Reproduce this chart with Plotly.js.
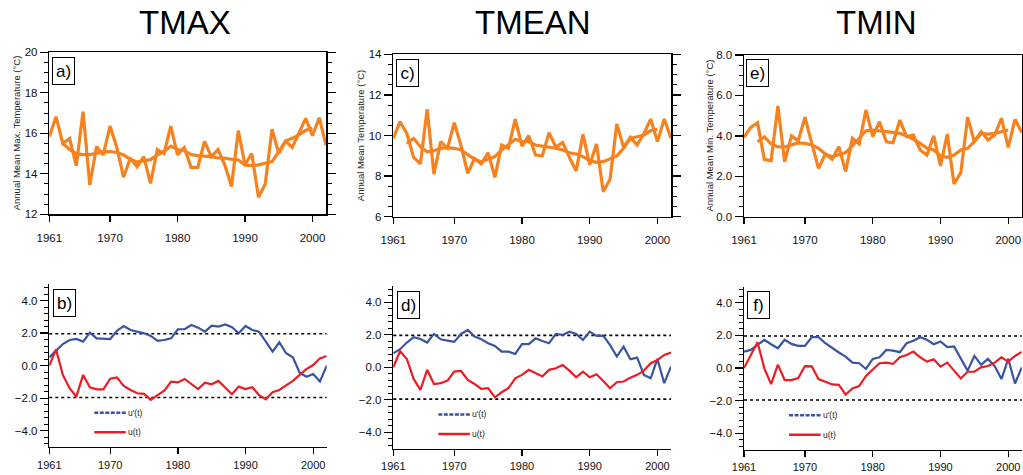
<!DOCTYPE html>
<html>
<head>
<meta charset="utf-8">
<script src="https://cdn.plot.ly/plotly-3.0.1.min.js"></script>
<style>
html,body{margin:0;padding:0;background:#fff;}
#chart{width:1023px;height:475px;}
</style>
</head>
<body>
<div id="chart"></div>
<script>
// ---------- data ----------
const years = [];
for (let y = 1961; y <= 2002; y++) years.push(y);
const smoothYears = [];
for (let y = 1963; y <= 2000; y++) smoothYears.push(y);

const tmax = [15.84,16.82,15.5,15.75,14.4,17.07,13.45,15.35,14.93,16.36,15.3,13.83,14.77,14.35,14.85,13.53,15.2,15.0,16.36,14.93,15.3,14.32,14.32,15.6,14.85,15.2,14.44,13.37,16.13,14.44,15.0,12.84,13.5,16.2,15.0,15.6,15.3,16.0,16.74,15.88,16.77,15.42];
const tmaxSmooth = [15.5,15.2,15.0,14.95,14.95,15.02,15.08,15.1,15.05,14.93,14.72,14.58,14.65,14.7,14.93,15.1,15.37,15.2,15.15,14.95,14.9,14.88,14.85,14.78,14.77,14.72,14.68,14.42,14.4,14.44,14.52,14.6,15.1,15.62,15.75,15.92,16.15,16.25];

const tmean = [9.86,10.68,10.1,8.92,8.6,11.29,8.1,9.7,9.37,10.63,9.5,8.14,8.87,8.6,9.15,7.94,9.53,9.37,10.81,9.48,9.99,9.04,9.0,10.14,9.42,9.66,8.92,8.25,10.06,8.55,9.58,7.23,7.84,10.57,9.42,9.91,9.53,10.1,10.81,9.7,10.81,9.86];
const tmeanSmooth = [9.61,9.86,9.45,9.2,9.25,9.37,9.4,9.37,9.29,9.04,8.83,8.71,8.83,8.96,9.29,9.53,9.81,9.7,9.7,9.53,9.48,9.45,9.37,9.29,9.15,9.09,8.96,8.76,8.68,8.71,8.83,8.99,9.37,9.86,9.94,10.02,10.24,10.3];

const tmin = [3.93,4.42,4.65,2.84,2.77,5.48,2.72,4.0,3.75,4.92,3.63,2.39,3.1,2.84,3.46,2.23,3.88,3.6,5.28,3.96,4.7,3.71,3.66,4.78,3.96,4.04,3.3,3.05,4.0,2.51,4.09,1.62,2.18,4.92,3.71,4.21,3.79,4.04,4.87,3.43,4.82,4.16];
const tminSmooth = [3.71,3.95,3.6,3.45,3.45,3.55,3.65,3.63,3.55,3.38,3.1,2.97,3.08,3.17,3.5,3.88,4.25,4.29,4.26,4.21,4.17,4.12,4.0,3.83,3.63,3.38,3.3,3.0,2.94,3.05,3.3,3.38,3.71,4.12,4.09,4.12,4.21,4.29];

const tmaxUb = [0.51,0.92,1.33,1.58,1.64,1.48,2.03,1.68,1.64,1.64,2.15,2.44,2.19,2.09,1.99,1.83,1.52,1.58,1.68,2.24,2.24,2.5,2.34,2.09,2.46,2.4,2.54,2.36,1.99,2.44,2.19,2.09,1.48,0.86,1.44,0.76,0.51,-0.43,-0.68,-0.51,-0.98,0.0];
const tmaxUf = [0,1.0,-0.57,-1.39,-1.91,-0.57,-1.33,-1.46,-1.46,-0.8,-0.72,-1.25,-1.5,-1.7,-1.74,-2.11,-1.81,-1.54,-0.98,-1.03,-0.82,-1.13,-1.44,-1.05,-1.15,-0.94,-1.33,-1.76,-1.29,-1.44,-1.33,-1.81,-2.07,-1.64,-1.5,-1.23,-0.94,-0.57,-0.21,0.04,0.45,0.59];

const tmeanUb = [0.86,1.11,1.52,1.85,1.74,1.52,2.05,1.72,1.64,1.56,2.05,2.3,1.89,1.72,1.48,1.31,0.96,0.96,0.82,1.42,1.42,1.78,1.62,1.48,2.05,1.99,2.19,2.05,1.68,2.19,1.93,1.95,1.37,0.66,1.27,0.49,0.59,-0.47,-0.68,0.51,-0.98,0.04];
const tmeanUf = [0,1.0,0.51,-0.72,-1.39,-0.16,-1.03,-0.98,-0.82,-0.27,-0.23,-0.78,-1.03,-1.33,-1.29,-1.85,-1.54,-1.29,-0.68,-0.47,-0.16,-0.37,-0.57,-0.16,-0.06,0.14,-0.21,-0.62,-0.27,-0.62,-0.43,-0.84,-1.29,-0.92,-0.88,-0.64,-0.47,-0.21,0.25,0.45,0.76,0.9];

const tminUb = [1.0,1.11,1.42,1.73,1.46,1.21,1.73,1.48,1.36,1.36,1.89,1.89,1.52,1.21,0.95,0.7,0.33,0.29,-0.06,0.56,0.66,1.11,1.07,0.97,1.52,1.67,1.89,1.73,1.46,1.63,1.28,1.32,0.6,-0.16,0.74,0.19,0.56,0.12,-0.68,0.56,-0.95,0.04];
const tminUf = [0,0.8,1.58,-0.02,-0.99,0.21,-0.74,-0.74,-0.62,0.12,0.1,-0.68,-0.84,-1.01,-1.03,-1.63,-1.26,-1.11,-0.49,-0.12,0.29,0.33,0.25,0.66,0.8,1.01,0.66,0.39,0.53,0.08,0.33,-0.16,-0.64,-0.23,-0.23,0.04,0.12,0.33,0.66,0.39,0.74,0.99];

const columnTitles = ["TMAX", "TMEAN", "TMIN"];
const yTitles = ["Annual Mean Max. Temperature (°C)", "Annual Mean Temperature (°C)", "Annual Mean Min. Temperature (°C)"];
const topLetters = ["a)", "c)", "e)"];
const bottomLetters = ["b)", "d)", "f)"];
const xTickVals = [1961, 1970, 1980, 1990, 2000];
const critical = 1.96;

// ---------- style ----------
const ORANGE = "#F5821F";
const BLUE = "#3A54A4";
const RED = "#EC1C24";
const NARROW = "Liberation Sans Narrow, Arial Narrow, Liberation Sans, Arial, sans-serif";
const SANS = "Liberation Sans, Arial, sans-serif";
const W = 1023, H = 475;

const topSeries = [[tmax, tmaxSmooth], [tmean, tmeanSmooth], [tmin, tminSmooth]];
const botSeries = [[tmaxUb, tmaxUf], [tmeanUb, tmeanUf], [tminUb, tminUf]];

// pixel boxes of panels [left, right, top, bottom]
const topBox = [[49.3, 326, 52.3, 214.3], [393.3, 671, 54.3, 216.7], [744, 1021.8, 55, 216.7]];
const botBox = [[49.3, 326.7, 284.4, 446.9], [393.3, 671, 286, 448.5], [744, 1021.8, 286.5, 449.5]];
const topRanges = [[12, 20], [6, 14], [0, 8]];
const topFormat = ["d", "d", ".1f"];
const yTitleX = [16, 360.7, 709.7];
const titleX = [185, 533, 876];

const traces = [];
const layout = {
  width: W, height: H,
  margin: {l: 0, r: 0, t: 0, b: 0},
  paper_bgcolor: "#fff", plot_bgcolor: "#fff",
  showlegend: false,
  font: {family: NARROW, color: "#000", size: 11},
  annotations: [], shapes: []
};

function dom(box) {
  return {
    x: [box[0] / W, box[1] / W],
    y: [1 - box[3] / H, 1 - box[2] / H]
  };
}

for (let i = 0; i < 3; i++) {
  const ti = i + 1;       // top axes index
  const bi = i + 4;       // bottom axes index
  const tx = "x" + (ti === 1 ? "" : ti), ty = "y" + (ti === 1 ? "" : ti);
  const bx = "x" + bi, by = "y" + bi;
  const tKeyX = "xaxis" + (ti === 1 ? "" : ti), tKeyY = "yaxis" + (ti === 1 ? "" : ti);
  const bKeyX = "xaxis" + bi, bKeyY = "yaxis" + bi;

  // top traces
  traces.push({x: years, y: topSeries[i][0], xaxis: tx, yaxis: ty, mode: "lines",
    line: {color: ORANGE, width: 3.2}, hoverinfo: "skip"});
  traces.push({x: smoothYears, y: topSeries[i][1], xaxis: tx, yaxis: ty, mode: "lines",
    line: {color: ORANGE, width: 3.2}, hoverinfo: "skip"});
  // bottom traces
  traces.push({x: years, y: botSeries[i][0], xaxis: bx, yaxis: by, mode: "lines",
    line: {color: BLUE, width: 2.2}, hoverinfo: "skip"});
  traces.push({x: years, y: botSeries[i][1], xaxis: bx, yaxis: by, mode: "lines",
    line: {color: RED, width: 2.2}, hoverinfo: "skip"});

  const dT = dom(topBox[i]);
  const dB = dom(botBox[i]);
  const xCommon = {
    range: [1961, 2002], tickvals: xTickVals, showgrid: false, zeroline: false,
    showline: true, linecolor: "#000", linewidth: 1.5, ticks: "outside", ticklen: 6,
    tickwidth: 1.3, tickcolor: "#000",
    tickfont: {family: NARROW, size: 11.5, color: "#111"}, fixedrange: true
  };
  layout[tKeyX] = Object.assign({}, xCommon, {domain: dT.x, anchor: ty, mirror: true, ticklabelstandoff: 6});
  layout[bKeyX] = Object.assign({}, xCommon, {domain: dB.x, anchor: by, mirror: false, ticklabelstandoff: 1,
    tickfont: {family: NARROW, size: 11, color: "#111"}});

  layout[tKeyY] = {
    domain: dT.y, anchor: tx, range: topRanges[i], dtick: 2, tick0: 0,
    tickformat: topFormat[i], showgrid: false, zeroline: false,
    showline: true, linecolor: "#000", linewidth: 1.5, mirror: "allticks",
    ticks: "outside", ticklen: 8, tickwidth: 1.3, tickcolor: "#000",
    minor: {dtick: 0.5, tick0: 0, ticks: "outside", ticklen: 4, tickwidth: 1, tickcolor: "#000", showgrid: false},
    tickfont: {family: NARROW, size: 11.5, color: "#111"}, fixedrange: true
  };
  layout[bKeyY] = {
    domain: dB.y, anchor: bx, range: [-5, 5], dtick: 2, tick0: 0,
    tickformat: ".1f", showgrid: false, zeroline: false,
    showline: true, linecolor: "#000", linewidth: 1.5, mirror: false,
    ticks: "outside", ticklen: 8, tickwidth: 1.3, tickcolor: "#000",
    minor: {dtick: 0.4, tick0: 0, ticks: "outside", ticklen: 4, tickwidth: 1, tickcolor: "#000", showgrid: false},
    tickfont: {family: NARROW, size: 11.5, color: "#111"}, fixedrange: true
  };

  // column title
  layout.annotations.push({text: columnTitles[i], xref: "paper", yref: "paper",
    x: titleX[i] / W, y: 1 - 23 / H, xanchor: "center", yanchor: "middle",
    showarrow: false, font: {family: NARROW, size: 33, color: "#000"}});
  // y-axis title
  layout.annotations.push({text: yTitles[i], xref: "paper", yref: ty + " domain",
    x: yTitleX[i] / W, y: 0.5, xanchor: "center", yanchor: "middle", textangle: -90,
    showarrow: false, font: {family: SANS, size: 9.5, color: "#222"}});
  // panel letters
  layout.annotations.push({text: topLetters[i], xref: tx + " domain", yref: ty + " domain",
    x: 2.4 / (topBox[i][1] - topBox[i][0]), y: 1 - 4.4 / (topBox[i][3] - topBox[i][2]),
    xanchor: "left", yanchor: "top", showarrow: false, bgcolor: "#fff",
    bordercolor: "#000", borderwidth: 1, borderpad: 2, width: 17, height: 22,
    font: {family: NARROW, size: 17, color: "#000"}});
  layout.annotations.push({text: bottomLetters[i], xref: bx + " domain", yref: by + " domain",
    x: 3.4 / (botBox[i][1] - botBox[i][0]), y: 1 - 4.6 / (botBox[i][3] - botBox[i][2]),
    xanchor: "left", yanchor: "top", showarrow: false, bgcolor: "#fff",
    bordercolor: "#000", borderwidth: 1, borderpad: 2, width: 17, height: 22,
    font: {family: NARROW, size: 17, color: "#000"}});

  // critical lines
  [critical, -critical].forEach(v => {
    layout.shapes.push({type: "line", xref: bx + " domain", yref: by, x0: 0, x1: 1, y0: v, y1: v,
      line: {color: "#000", width: 1.6, dash: "dot"}, layer: "below"});
  });

  // legend (drawn in panel)
  layout.shapes.push({type: "line", xref: bx, yref: by, x0: 1967.65, x1: 1972.3, y0: -2.9, y1: -2.9,
    line: {color: BLUE, width: 2.5, dash: "4px,1.5px"}});
  layout.shapes.push({type: "line", xref: bx, yref: by, x0: 1967.65, x1: 1972.3, y0: -4.1, y1: -4.1,
    line: {color: RED, width: 2.5}});
  layout.annotations.push({text: "u'(t)", xref: bx, yref: by, x: 1972.3, y: -2.9,
    xanchor: "left", yanchor: "middle", showarrow: false, font: {family: NARROW, size: 8.5, color: "#222"}});
  layout.annotations.push({text: "u(t)", xref: bx, yref: by, x: 1972.3, y: -4.1,
    xanchor: "left", yanchor: "middle", showarrow: false, font: {family: NARROW, size: 8.5, color: "#222"}});
}

Plotly.newPlot("chart", traces, layout, {staticPlot: true, displayModeBar: false});
</script>
</body>
</html>
